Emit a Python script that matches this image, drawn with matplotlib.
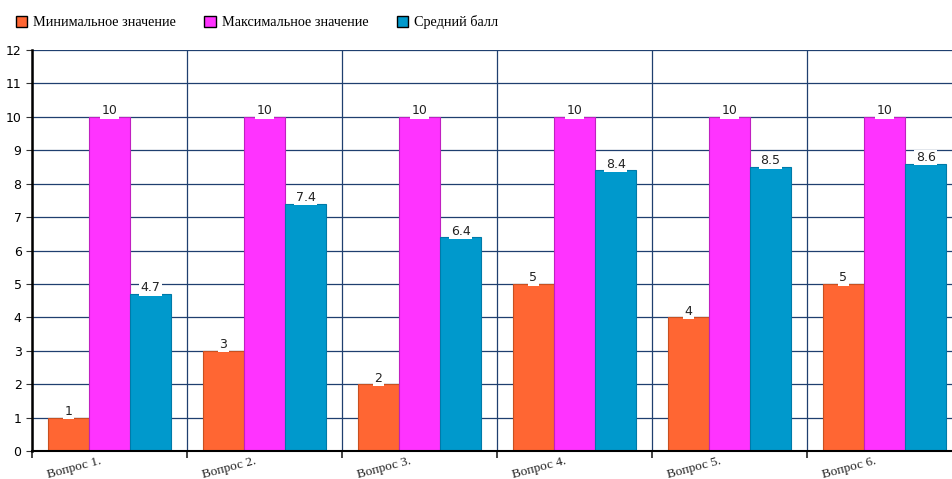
import numpy as np
import matplotlib.pyplot as plt

categories = ["Вопрос 1.", "Вопрос 2.", "Вопрос 3.", "Вопрос 4.", "Вопрос 5.", "Вопрос 6."]
min_vals = [1, 3, 2, 5, 4, 5]
max_vals = [10, 10, 10, 10, 10, 10]
avg_vals = [4.7, 7.4, 6.4, 8.4, 8.5, 8.6]
series_names = ["Минимальное значение", "Максимальное значение", "Средний балл"]
colors = ["#FF6633", "#FF33FF", "#0099CC"]
edges = ["#C85020", "#C020C0", "#007AA8"]

plt.rcParams['font.family'] = ['Liberation Serif', 'DejaVu Serif']

fig = plt.figure(figsize=(9.52, 4.79), dpi=100)
ax = fig.add_axes([32 / 952, 1 - 451 / 479, 930 / 952, 401 / 479])

x = np.arange(len(categories))
w = 0.265
for k, vals in enumerate([min_vals, max_vals, avg_vals]):
    pos = x + (k - 1) * w
    ax.bar(pos, vals, width=w, color=colors[k], edgecolor=edges[k], linewidth=0.8,
           zorder=3, label=series_names[k])
    for p, v in zip(pos, vals):
        ax.text(p, v + 0.18, f"{v:g}", ha="center", va="center", fontsize=9,
                family="DejaVu Sans", color="#222222", zorder=4,
                bbox=dict(boxstyle="square,pad=0.1", fc="white", ec="none"))

ax.set_xlim(-0.5, len(categories) - 0.5)
ax.set_ylim(0, 12)
ax.set_yticks(range(0, 13))
ax.tick_params(axis="y", labelsize=9, length=4, color="#333333")
for lbl in ax.get_yticklabels():
    lbl.set_family("DejaVu Sans")

ax.set_xticks(np.arange(len(categories) + 1) - 0.5)
ax.set_xticklabels([])
ax.tick_params(axis="x", length=5, width=1.2, color="#222222")
for i, c in enumerate(categories):
    ax.text(i - 0.23, -0.5, c, rotation=15, ha="center", va="center", fontsize=9.5,
            color="#222222", clip_on=False)

ax.grid(True, axis="both", color="#1F3F6F", linewidth=0.9, zorder=0)
for s in ["top", "right"]:
    ax.spines[s].set_visible(False)
ax.spines["left"].set_linewidth(1.8)
ax.spines["bottom"].set_linewidth(1.5)
ax.spines["left"].set_zorder(5)
ax.spines["bottom"].set_zorder(5)

leg = fig.legend(loc="upper left", bbox_to_anchor=(0.003, 0.995), ncol=3, frameon=False,
                 fontsize=10.3, handlelength=0.8, handleheight=0.8, columnspacing=2.0,
                 handletextpad=0.4)
for h in leg.legend_handles:
    h.set_edgecolor("black")
    h.set_linewidth(1.0)

fig.savefig("out.png", dpi=100)
